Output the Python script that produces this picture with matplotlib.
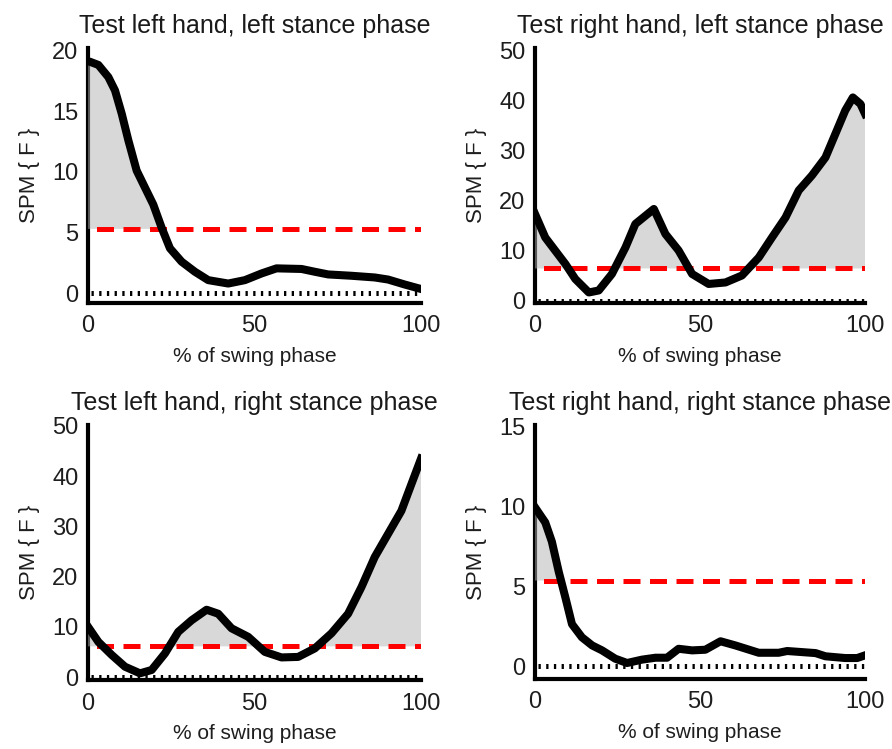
import numpy as np
import matplotlib
matplotlib.use("Agg")
import matplotlib.pyplot as plt

plt.rcParams['font.family'] = ['Liberation Sans', 'DejaVu Sans']

# ---- data ----
# test left hand, left stance phase
x_ll = [0, 0.6, 3.1, 6.1, 8.1, 10.1, 12.1, 14.6, 17.1, 19.6, 22.1, 24.6, 28.1, 32.1, 36.1, 42.1,
        47.1, 52.1, 56.6, 64.1, 68.1, 72.1, 79.1, 86.1, 90.1, 95.1, 100]
y_ll = [19.1, 19.06, 18.8, 17.8, 16.7, 14.8, 12.6, 10.1, 8.7, 7.3, 5.4, 3.7, 2.6, 1.77, 1.08, 0.8,
        1.08, 1.63, 2.05, 2.0, 1.77, 1.55, 1.44, 1.3, 1.13, 0.72, 0.35]

# test right hand, left stance phase
x_rl = [0, 3.1, 6.2, 9.2, 12.2, 16.3, 19.3, 23.3, 27.4, 30.4, 36.0, 39.5, 43.5, 47.6, 52.6, 57.7,
        62.7, 67.8, 71.8, 75.9, 79.9, 83.9, 88.0, 91.0, 94.0, 96.3, 98.6, 100]
y_rl = [17.4, 12.7, 10.0, 7.4, 4.4, 1.7, 2.1, 5.4, 10.7, 15.4, 18.4, 13.4, 10.1, 5.4, 3.4, 3.7,
        5.1, 8.7, 12.7, 16.7, 22.1, 25.1, 28.7, 33.4, 38.1, 40.7, 39.4, 37.4]

# test left hand, right stance phase
x_lr = [0, 3.1, 7.1, 11.1, 15.6, 19.1, 23.1, 27.1, 31.1, 35.6, 39.1, 43.1, 48.1, 53.1, 58.1, 63.1,
        68.1, 73.1, 78.1, 82.1, 86.1, 90.1, 94.1, 97.1, 100]
y_lr = [10.0, 7.0, 4.4, 2.05, 0.73, 1.4, 4.7, 9.0, 11.3, 13.4, 12.6, 9.7, 8.0, 5.0, 3.9, 4.0,
        5.7, 8.7, 12.6, 17.9, 23.9, 28.5, 33.1, 38.4, 43.5]

# test right hand, right stance phase
x_rr = [0, 3.1, 5.1, 7.2, 9.2, 11.2, 14.2, 17.3, 20.3, 24.3, 27.9, 32.4, 36.5, 40.0, 43.5, 47.6,
        51.6, 56.2, 60.7, 67.8, 73.8, 76.4, 85.0, 88.0, 94.0, 97.6, 100]
y_rr = [9.94, 9.0, 7.8, 5.9, 4.3, 2.63, 1.81, 1.3, 0.99, 0.47, 0.2, 0.41, 0.53, 0.53, 1.09, 0.99,
        1.03, 1.56, 1.3, 0.84, 0.84, 0.95, 0.82, 0.62, 0.51, 0.51, 0.68]

titles = ["Test left hand, left stance phase", "Test right hand, left stance phase",
          "Test left hand, right stance phase", "Test right hand, right stance phase"]
thresholds = [5.3, 6.5, 6.1, 5.36]
yticks = [[0, 5, 10, 15, 20], [0, 10, 20, 30, 40, 50], [0, 10, 20, 30, 40, 50], [0, 5, 10, 15]]
ylims = [(-0.8, 20.2), (-0.4, 50.6), (-0.6, 50.2), (-0.8, 15.1)]
curves = [(x_ll, y_ll), (x_rl, y_rl), (x_lr, y_lr), (x_rr, y_rr)]

positions = [[0.0987, 0.5955, 0.3733, 0.3405],
             [0.5998, 0.5955, 0.3700, 0.3405],
             [0.0987, 0.0921, 0.3733, 0.3405],
             [0.5998, 0.0935, 0.3700, 0.3391]]

fig = plt.figure(figsize=(8.92, 7.49), dpi=100)

for i in range(4):
    ax = fig.add_axes(positions[i])
    xs = np.array(curves[i][0])
    ys = np.array(curves[i][1])
    thr = thresholds[i]
    # shade supra-threshold clusters (drawn over the spine, semi-transparent)
    ax.fill_between(xs, thr, ys, where=ys > thr, interpolate=True,
                    facecolor=(0.7, 0.7, 0.7), alpha=0.5, linewidth=0, zorder=3)
    ax.plot([0.8, 100], [0, 0], color='black', linestyle=(0, (0.46, 1.08)),
            linewidth=3.6, zorder=2)
    ax.plot([0, 100], [thr, thr], color='red', linestyle=(3.6, (3.4, 1.9)),
            linewidth=3.6, zorder=4)
    ax.plot(xs, ys, color='black', linewidth=5.8, solid_joinstyle='round', zorder=5)

    ax.set_xlim(0, 100)
    ax.set_ylim(*ylims[i])
    ax.set_xticks([0, 50, 100])
    ax.set_yticks(yticks[i])
    ax.tick_params(length=0, labelsize=17, colors='#1e1e1e')
    ax.tick_params(axis='x', pad=9)
    ax.tick_params(axis='y', pad=7)
    for side in ['top', 'right']:
        ax.spines[side].set_visible(False)
    for side in ['left', 'bottom']:
        ax.spines[side].set_linewidth(3)
    ax.set_title(titles[i], fontsize=18, pad=11, color='#1a1a1a')
    ax.set_xlabel("% of swing phase", fontsize=15, labelpad=7, color='#1e1e1e')
    ax.set_ylabel("SPM { F }", fontsize=16, labelpad=9, color='#1e1e1e')

fig.savefig("out.png", dpi=100)
